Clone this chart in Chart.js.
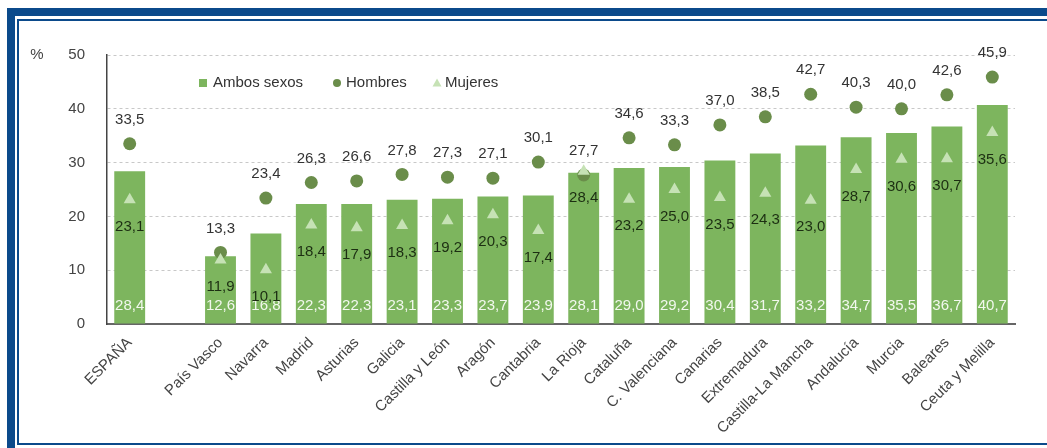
<!DOCTYPE html>
<html>
<head>
<meta charset="utf-8">
<script src="https://cdn.jsdelivr.net/npm/chart.js@4"></script>
<style>
  html, body { margin: 0; padding: 0; background: #fff; overflow: hidden; }
  body { width: 1047px; height: 448px; position: relative; }
  .outer { position: absolute; left: 7px; top: 8px; width: 2000px; height: 2000px;
           border-left: 8px solid #0b4a8b; border-top: 8px solid #0b4a8b; }
  .inner { position: absolute; left: 17px; top: 19px; width: 2000px; height: 422px;
           border-left: 2px solid #0b4a8b; border-top: 2px solid #0b4a8b; border-bottom: 2px solid #0b4a8b; }
  canvas { position: absolute; left: 0; top: 0; }
</style>
</head>
<body>
<div class="outer"></div>
<div class="inner"></div>
<canvas id="c" width="1047" height="448"></canvas>
<script>
const categories = ['ESPAÑA', '', 'País Vasco', 'Navarra', 'Madrid', 'Asturias', 'Galicia', 'Castilla y León',
  'Aragón', 'Cantabria', 'La Rioja', 'Cataluña', 'C. Valenciana', 'Canarias', 'Extremadura',
  'Castilla-La Mancha', 'Andalucía', 'Murcia', 'Baleares', 'Ceuta y Melilla'];
const ambosSexos = [28.4, null, 12.6, 16.8, 22.3, 22.3, 23.1, 23.3, 23.7, 23.9, 28.1, 29.0, 29.2, 30.4, 31.7, 33.2, 34.7, 35.5, 36.7, 40.7];
const hombres    = [33.5, null, 13.3, 23.4, 26.3, 26.6, 27.8, 27.3, 27.1, 30.1, 27.7, 34.6, 33.3, 37.0, 38.5, 42.7, 40.3, 40.0, 42.6, 45.9];
const mujeres    = [23.1, null, 11.9, 10.1, 18.4, 17.9, 18.3, 19.2, 20.3, 17.4, 28.4, 23.2, 25.0, 23.5, 24.3, 23.0, 28.7, 30.6, 30.7, 35.6];
const yTicks = [0, 10, 20, 30, 40, 50];

const FONT = '"Liberation Sans", Arial, sans-serif';
Chart.defaults.font.family = FONT;

const fmt = v => v.toFixed(1).replace('.', ',');

const labelsPlugin = {
  id: 'valueLabels',
  afterDatasetsDraw(chart) {
    const ctx = chart.ctx;
    ctx.save();
    ctx.font = '15px ' + FONT;
    ctx.textAlign = 'center';
    ctx.textBaseline = 'middle';
    chart.data.datasets.forEach((ds, di) => {
      const meta = chart.getDatasetMeta(di);
      meta.data.forEach((el, i) => {
        const v = ds.data[i];
        if (v === null || v === undefined) return;
        if (ds.type === 'bar') {
          ctx.fillStyle = '#f2f8ee';
          ctx.fillText(fmt(v), el.x, el.base - 18);
        } else if (ds.label === 'Hombres') {
          ctx.fillStyle = '#333333';
          ctx.fillText(fmt(v), el.x, el.y - 24);
        } else {
          ctx.fillStyle = '#1c2e12';
          ctx.fillText(fmt(v), el.x, el.y + 27);
        }
      });
    });
    ctx.restore();
  },
  afterDraw(chart) {
    const ctx = chart.ctx;
    const a = chart.chartArea;
    const ds = chart.data.datasets;
    ctx.save();
    ctx.font = '15px ' + FONT;
    ctx.textBaseline = 'middle';
    ctx.fillStyle = '#444';
    ctx.textAlign = 'center';
    ctx.fillText('%', a.left - 70, a.top);
    // legend
    const ly = a.top + 28;
    ctx.textAlign = 'left';
    ctx.fillStyle = ds[0].backgroundColor;
    ctx.fillRect(a.left + 92, ly - 4, 8, 8);
    ctx.fillStyle = '#333';
    ctx.fillText(ds[0].label, a.left + 106, ly);
    ctx.fillStyle = ds[1].backgroundColor;
    ctx.beginPath(); ctx.arc(a.left + 230, ly, 4, 0, Math.PI * 2); ctx.fill();
    ctx.fillStyle = '#333';
    ctx.fillText(ds[1].label, a.left + 239, ly);
    ctx.fillStyle = ds[2].backgroundColor;
    ctx.beginPath();
    ctx.moveTo(a.left + 330, ly - 4.5);
    ctx.lineTo(a.left + 334.5, ly + 3.5);
    ctx.lineTo(a.left + 325.5, ly + 3.5);
    ctx.closePath(); ctx.fill();
    ctx.fillStyle = '#333';
    ctx.fillText(ds[2].label, a.left + 338, ly);
    ctx.restore();
  }
};

new Chart(document.getElementById('c'), {
  data: {
    labels: categories,
    datasets: [
      { type: 'bar', label: 'Ambos sexos', data: ambosSexos, backgroundColor: '#7db55e',
        barPercentage: 0.68, categoryPercentage: 1.0, order: 2 },
      { type: 'line', label: 'Hombres', data: hombres, showLine: false, pointStyle: 'circle',
        pointRadius: 6.5, pointBackgroundColor: '#6a8d4a', backgroundColor: '#6a8d4a',
        pointBorderWidth: 0, borderColor: '#6a8d4a', order: 1 },
      { type: 'line', label: 'Mujeres', data: mujeres, showLine: false, pointStyle: 'triangle',
        pointRadius: 7, pointBackgroundColor: '#c6e2b5', backgroundColor: '#c6e2b5',
        pointBorderWidth: 0, borderColor: '#c6e2b5', order: 0 }
    ]
  },
  options: {
    responsive: false,
    animation: false,
    layout: { padding: { left: 0, top: 55, right: 32, bottom: 0 } },
    plugins: { legend: { display: false }, tooltip: { enabled: false } },
    scales: {
      x: {
        grid: { display: false },
        border: { display: true, color: '#666', width: 2 },
        ticks: { autoSkip: false, maxRotation: 45, minRotation: 45, color: '#444',
                 font: { size: 15 }, padding: 2 },
        afterFit(s) { s.height = 124; }
      },
      y: {
        min: 0, max: 50,
        afterBuildTicks(s) { s.ticks = yTicks.map(v => ({ value: v })); },
        grid: { color: '#c8c8c8', lineWidth: 1, drawTicks: false },
        border: { display: true, color: '#444', width: 1.5, dash: [3, 3] },
        ticks: { color: '#444', font: { size: 15 }, padding: 22 },
        afterFit(s) { s.width = 107; }
      }
    }
  },
  plugins: [labelsPlugin]
});
</script>
</body>
</html>
